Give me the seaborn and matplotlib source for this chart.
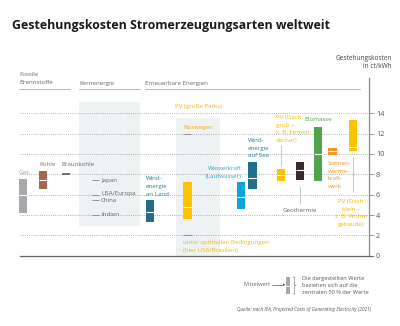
import matplotlib
matplotlib.use("Agg")
import matplotlib.pyplot as plt
import seaborn as sns
import pandas as pd

# ---------------- data ----------------
categories = ["Gas", "Kohle", "Windenergie an Land", "PV (große Parks)", "Wasserkraft (Laufwasser)",
              "Windenergie auf See", "PV (Dach groß)", "Geothermie", "Biomasse",
              "Sonnenwärmekraftwerk", "PV (Dach klein)"]
low_vals = [4.2, 6.6, 3.3, 3.6, 4.55, 6.6, 7.35, 7.45, 7.3, 9.9, 10.25]
high_vals = [7.55, 8.35, 5.5, 7.2, 7.2, 9.25, 8.5, 9.25, 12.7, 10.55, 13.35]
mean_vals = [6.0, 7.45, 4.3, 4.8, 5.8, 7.6, 7.95, 8.45, 10.0, 10.3, 10.7]

braunkohle_val = 8.0
kern_labels = ["Japan", "USA/Europa", "China", "Indien"]
kern_vals = [7.4, 5.95, 5.5, 4.0]
pv_norwegen = 12.0
pv_optimal = 2.0
y_ticks = [0, 2, 4, 6, 8, 10, 12, 14]

# ---------------- layout / style ----------------
bar_x = [23, 43, 150, 187.5, 241, 252.5, 281, 300, 318, 332.5, 353]
bar_colors = ["#a6a8ab", "#a3684f", "#1f6f8b", "#fdc300", "#0fa3de", "#1f6f8b",
              "#fdc300", "#3b2a2e", "#4ea64a", "#f39325", "#fdc300"]
BW = 8.4
W, H = 400, 326
Y0, YTOP = 255.7, 78.0
S = (Y0 - YTOP) / 17.47


def v(py):
    return (Y0 - py) / S


def fy(py):
    return 1 - py / H


sns.set_theme(style="white")
FONT = ["Open Sans", "DejaVu Sans"]
plt.rcParams["font.family"] = FONT

fig = plt.figure(figsize=(W / 100, H / 100), dpi=100)
ax = fig.add_axes([0, (H - Y0) / H, 1, (Y0 - YTOP) / H])
ax.set_xlim(0, W)
ax.set_ylim(0, 17.47)
ax.patch.set_alpha(0)

df = pd.DataFrame({"cat": categories, "low": low_vals, "high": high_vals,
                   "mean": mean_vals, "x": bar_x, "color": bar_colors})

# shaded regions
shade = "#eef2f3"
ax.fill_between([79, 140], v(225.5), v(101.7), color=shade, lw=0, zorder=0)
ax.fill_between([176, 220], 0, v(118), color=shade, lw=0, zorder=0)

# grid
for t in y_ticks[1:]:
    ax.hlines(t, 20, 369, colors="#9a9a9a", linestyles=(0, (1, 1.6)), lw=0.6, zorder=1)

# bars
ax.bar(df["x"], df["high"] - df["low"], bottom=df["low"], width=BW,
       color=df["color"], lw=0, zorder=3)
ax.hlines(df["mean"], df["x"] - BW / 2, df["x"] + BW / 2, colors="white", lw=0.8, zorder=4)

# Braunkohle
ax.hlines(braunkohle_val, 62, 69.5, colors="#555555", lw=1.2, zorder=3)

fs = 4.4
gray_t = "#666666"
# Kernenergie
kern_text_py = [180.5, 193.0, 200.0, 215.0]
for lab, val, tpy in zip(kern_labels, kern_vals, kern_text_py):
    ax.hlines(val, 92, 99, colors="#888888", lw=0.6, zorder=3)
    ax.text(101, v(tpy), lab, fontsize=fs, color=gray_t, va="center", ha="left")

# PV special lines
ax.hlines(pv_norwegen, 183, 191, colors="#888888", lw=0.6, zorder=3)
ax.hlines(pv_optimal, 183, 192, colors="#888888", lw=0.6, zorder=3)

# connectors
ax.vlines(281, v(166), v(145), colors="#bbbbbb", lw=0.6)
ax.vlines(300, v(203), v(186), colors="#bbbbbb", lw=0.6)
ax.vlines(353, v(192), v(157), colors="#bbbbbb", lw=0.6)

# spines / axis
for s in ["left", "top"]:
    ax.spines[s].set_visible(False)
ax.spines["right"].set_position(("data", 369))
ax.spines["right"].set_bounds(0, 17.47)
ax.spines["right"].set_color("#888888")
ax.spines["right"].set_linewidth(0.9)
ax.spines["bottom"].set_bounds(20, 372)
ax.spines["bottom"].set_color("#666666")
ax.spines["bottom"].set_linewidth(0.9)
ax.set_xticks([])
ax.yaxis.tick_right()
ax.set_yticks(y_ticks)
ax.set_yticklabels([str(t) for t in y_ticks])
ax.tick_params(axis="y", direction="out", length=3.5, width=0.6, color="#888888",
               labelsize=5.2, labelcolor="#555555", pad=1.5, right=True)
ax.set_ylabel("")
ax.set_xlabel("")

# category labels
yel_t = "#f2b700"
teal_t = "#2a7a99"
lh = 7.6


def mtext(x, py_top, lines, color, ha="left"):
    for i, ln in enumerate(lines):
        ax.text(x, v(py_top + i * lh), ln, fontsize=fs, color=color, ha=ha, va="center",
                clip_on=False)


mtext(19, 172.5, ["Gas"], "#9a9a9a")
mtext(39, 164.5, ["Kohle"], "#a3684f")
mtext(61, 164.5, ["Braunkohle"], gray_t)
mtext(146, 179, ["Wind-", "energie", "an Land"], teal_t)
mtext(198, 106.5, ["PV (große Parks)"], yel_t, ha="center")
mtext(183, 127.5, ["Norwegen"], "#eeb000")
mtext(183, 242.7, ["unter optimalen Bedingungen", "(hier USA/Brasilien)"], yel_t)
mtext(242, 169, ["Wasserkraft", "(Laufwasser)"], "#2aa6d9", ha="right")
mtext(248, 140.5, ["Wind-", "energie", "auf See"], teal_t)
mtext(276, 117.5, ["PV (Dach", "groß –", "z. B. Firmen-", "dächer)"], yel_t)
mtext(300, 210, ["Geothermie"], gray_t, ha="center")
mtext(318, 119.5, ["Biomasse"], "#4ea64a", ha="center")
mtext(328, 163.5, ["Sonnen-", "wärme-", "kraft-", "werk"], "#f39325")
mtext(351, 201.7, ["PV (Dach", "klein –", "z. B. Wohn-", "gebäude)"], yel_t, ha="center")

# headers
fig.text(12 / W, fy(25), "Gestehungskosten Stromerzeugungsarten weltweit", fontsize=8.9,
         fontweight="bold", color="#1a1a1a", ha="left", va="center", family=FONT)
fig.text(392 / W, fy(58), "Gestehungskosten", fontsize=fs + 0.3, color="#444444",
         ha="right", va="center")
fig.text(392 / W, fy(66), "in ct/kWh", fontsize=fs + 0.3, color="#444444",
         ha="right", va="center")
fig.text(19 / W, fy(75), "Fossile", fontsize=fs, color=gray_t, va="center")
fig.text(19 / W, fy(82.5), "Brennstoffe", fontsize=fs, color=gray_t, va="center")
fig.text(79 / W, fy(83), "Kernenergie", fontsize=fs, color=gray_t, va="center")
fig.text(145 / W, fy(83), "Erneuerbare Energien", fontsize=fs, color=gray_t, va="center")
for x0, x1 in [(19, 70), (79, 140), (145, 360)]:
    fig.add_artist(plt.Line2D([x0 / W, x1 / W], [fy(88.5), fy(88.5)], color="#aaaaaa", lw=0.6))

# legend
fig.text(270 / W, fy(285), "Mittelwert", fontsize=fs - 0.3, color=gray_t, ha="right", va="center")
fig.add_artist(plt.Line2D([272 / W, 283 / W], [fy(285), fy(285)], color="#555555", lw=0.5))
fig.text(285.5 / W, fy(285), "▸", fontsize=3.5, color="#555555", ha="right", va="center")
fig.add_artist(plt.Rectangle((286 / W, fy(294)), 4.2 / W, 16.7 / H, color="#a6a8ab", lw=0))
fig.add_artist(plt.Line2D([286 / W, 290.2 / W], [fy(285.5), fy(285.5)], color="white", lw=0.7))
fig.add_artist(plt.Line2D([293 / W, 294.5 / W, 294.5 / W, 296 / W, 294.5 / W, 294.5 / W, 293 / W],
                          [fy(277), fy(277), fy(285), fy(285.5), fy(286), fy(294), fy(294)],
                          color="#888888", lw=0.5))
for i, ln in enumerate(["Die dargestellten Werte", "beziehen sich auf die",
                        "zentralen 50 % der Werte"]):
    fig.text(301.5 / W, fy(278.7 + i * 7.0), ln, fontsize=fs - 0.3, color="#555555",
             ha="left", va="center")
fig.text(371 / W, fy(310), "Quelle: nach IEA, Projected Costs of Generating Electricity (2021)",
         fontsize=3.4, style="italic", color="#555555", ha="right", va="center")

fig.savefig("out.png", dpi=100)
